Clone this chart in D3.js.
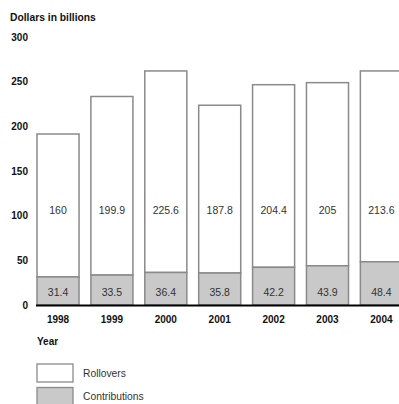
<!DOCTYPE html>
<html>
<head>
<meta charset="utf-8">
<script src="https://cdn.jsdelivr.net/npm/d3@7"></script>
<style>
  html, body { margin: 0; padding: 0; background: #fff; }
  svg { display: block; font-family: "Liberation Sans", Arial, Helvetica, sans-serif; }
</style>
</head>
<body>
<svg id="chart" width="399" height="404"></svg>
<script>
// IRA contributions and rollovers, dollars in billions
const years = ["1998", "1999", "2000", "2001", "2002", "2003", "2004"];
const contributions = [31.4, 33.5, 36.4, 35.8, 42.2, 43.9, 48.4];
const rollovers = [160, 199.9, 225.6, 187.8, 204.4, 205, 213.6];
const yTicks = [0, 50, 100, 150, 200, 250, 300];
const seriesNames = ["Rollovers", "Contributions"];

const svg = d3.select("#chart");
const x = d3.scaleBand().domain(years).range([37, 402.4]).paddingInner(0.22).paddingOuter(0);
const y = d3.scaleLinear().domain([0, 300]).range([305, 37]);

const strokeCol = "#8a8a8a";
const greyFill = "#c9c9c9";

// y axis title
svg.append("text").attr("x", 10).attr("y", 21)
  .attr("font-size", 10.3).attr("font-weight", "bold").attr("fill", "#111")
  .text("Dollars in billions");

// y tick labels
svg.append("g").selectAll("text").data(yTicks).join("text")
  .attr("x", 28).attr("y", d => y(d)).attr("dy", "0.35em")
  .attr("text-anchor", "end").attr("font-size", 10).attr("font-weight", "bold").attr("fill", "#111")
  .text(d => d);

const rows = years.map((yr, i) => ({ yr, c: contributions[i], r: rollovers[i] }));

// rollover segments (stacked on contributions)
svg.append("g").selectAll("rect").data(rows).join("rect")
  .attr("x", d => x(d.yr)).attr("width", x.bandwidth())
  .attr("y", d => y(d.c + d.r)).attr("height", d => y(d.c) - y(d.c + d.r))
  .attr("fill", "#fff").attr("stroke", strokeCol).attr("stroke-width", 1.5);

// contribution segments
svg.append("g").selectAll("rect").data(rows).join("rect")
  .attr("x", d => x(d.yr)).attr("width", x.bandwidth())
  .attr("y", d => y(d.c)).attr("height", d => y(0) - y(d.c))
  .attr("fill", greyFill).attr("stroke", strokeCol).attr("stroke-width", 1.5);

// value labels
svg.append("g").selectAll("text").data(rows).join("text")
  .attr("x", d => x(d.yr) + x.bandwidth() / 2).attr("y", 213.5)
  .attr("text-anchor", "middle").attr("font-size", 10.5).attr("fill", "#333")
  .text(d => d.r);
svg.append("g").selectAll("text").data(rows).join("text")
  .attr("x", d => x(d.yr) + x.bandwidth() / 2).attr("y", 295.5)
  .attr("text-anchor", "middle").attr("font-size", 10.5).attr("fill", "#333")
  .text(d => d.c);

// baseline
svg.append("line").attr("x1", 36).attr("x2", 399).attr("y1", y(0) + 0.5).attr("y2", y(0) + 0.5)
  .attr("stroke", "#000").attr("stroke-width", 2.2);

// x axis labels
const xAxis = d3.axisBottom(x).tickSize(0).tickPadding(0);
const gx = svg.append("g").attr("transform", `translate(0,${y(0) + 11})`).call(xAxis);
gx.select(".domain").remove();
gx.selectAll("text").attr("font-size", 10).attr("font-weight", "bold").attr("fill", "#111")
  .attr("font-family", "Liberation Sans, Arial, sans-serif");

svg.append("text").attr("x", 37).attr("y", 345)
  .attr("font-size", 10).attr("font-weight", "bold").attr("fill", "#111").text("Year");

// legend
const legend = svg.append("g").selectAll("g").data(seriesNames).join("g")
  .attr("transform", (d, i) => `translate(37,${364 + i * 23.5})`);
legend.append("rect").attr("width", 36).attr("height", 18)
  .attr("fill", (d, i) => i === 0 ? "#fff" : greyFill)
  .attr("stroke", strokeCol).attr("stroke-width", 1.3);
legend.append("text").attr("x", 46).attr("y", 9).attr("dy", "0.35em")
  .attr("font-size", 10.3).attr("fill", "#333").text(d => d);
</script>
</body>
</html>
